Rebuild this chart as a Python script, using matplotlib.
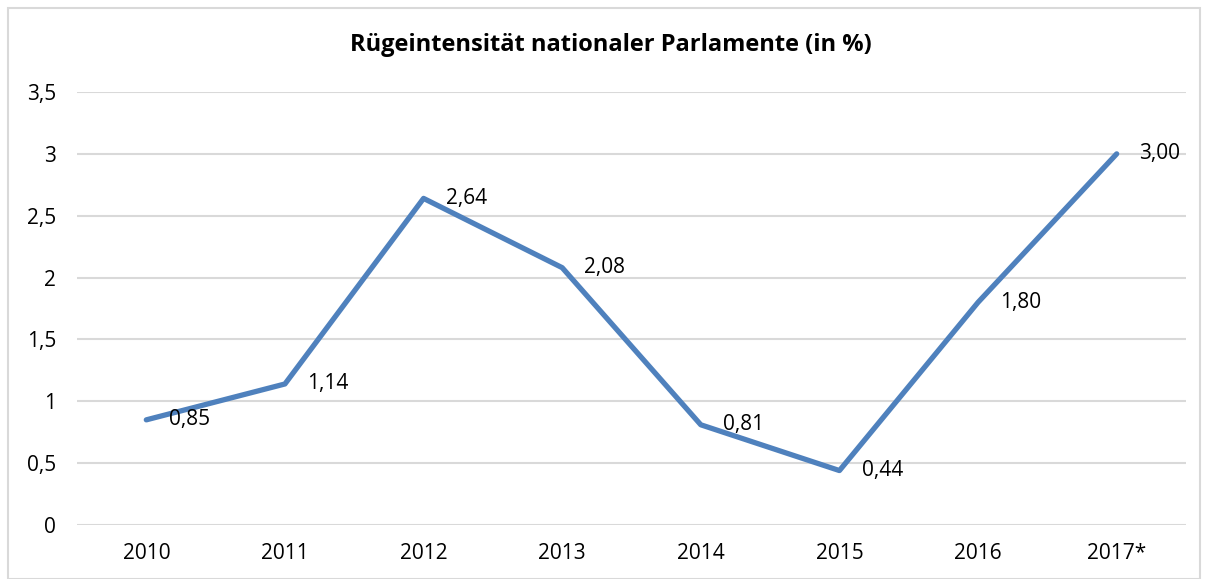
import matplotlib.pyplot as plt
from matplotlib.patches import Rectangle

plt.rcParams['font.family'] = ['Open Sans', 'DejaVu Sans']

# Daten
jahre = ['2010', '2011', '2012', '2013', '2014', '2015', '2016', '2017*']
werte = [0.85, 1.14, 2.64, 2.08, 0.81, 0.44, 1.80, 3.00]
y_ticks = [0, 0.5, 1, 1.5, 2, 2.5, 3, 3.5]
y_labels = ['0', '0,5', '1', '1,5', '2', '2,5', '3', '3,5']

fig = plt.figure(figsize=(12.08, 5.79), dpi=100)
ax = fig.add_axes([77/1208, 1 - 525/579, (1186-77)/1208, (525-92)/579])

# Rahmen um das Diagramm
fig.patches.append(Rectangle((8/1208, 0), 1192/1208, 571/579, transform=fig.transFigure,
                             fill=False, edgecolor='#d9d9d9', linewidth=1.5))

x = list(range(len(jahre)))
ax.plot(x, werte, color='#4f81bd', linewidth=3.8, solid_capstyle='round',
        solid_joinstyle='round', zorder=3)

for xi, v in zip(x, werte):
    ax.annotate(f'{v:.2f}'.replace('.', ','), (xi, v), xytext=(16, 0),
                textcoords='offset points', ha='left', va='center', fontsize=15)

ax.set_xlim(-0.5, len(jahre) - 0.5)
ax.set_ylim(0, 3.5)
ax.set_xticks(x)
ax.set_xticklabels(jahre, fontsize=15)
ax.set_yticks(y_ticks)
ax.set_yticklabels(y_labels, fontsize=15)
ax.grid(axis='y', color='#d9d9d9', linewidth=1.5)
ax.set_axisbelow(True)
for s in ax.spines.values():
    s.set_visible(False)
ax.tick_params(length=0, pad=15)
ax.tick_params(axis='x', pad=13)

fig.text(611/1208, 1 - 45/579, 'Rügeintensität nationaler Parlamente (in %)',
         ha='center', va='center', fontsize=17, fontweight='bold')

fig.savefig('out.png', dpi=100)
